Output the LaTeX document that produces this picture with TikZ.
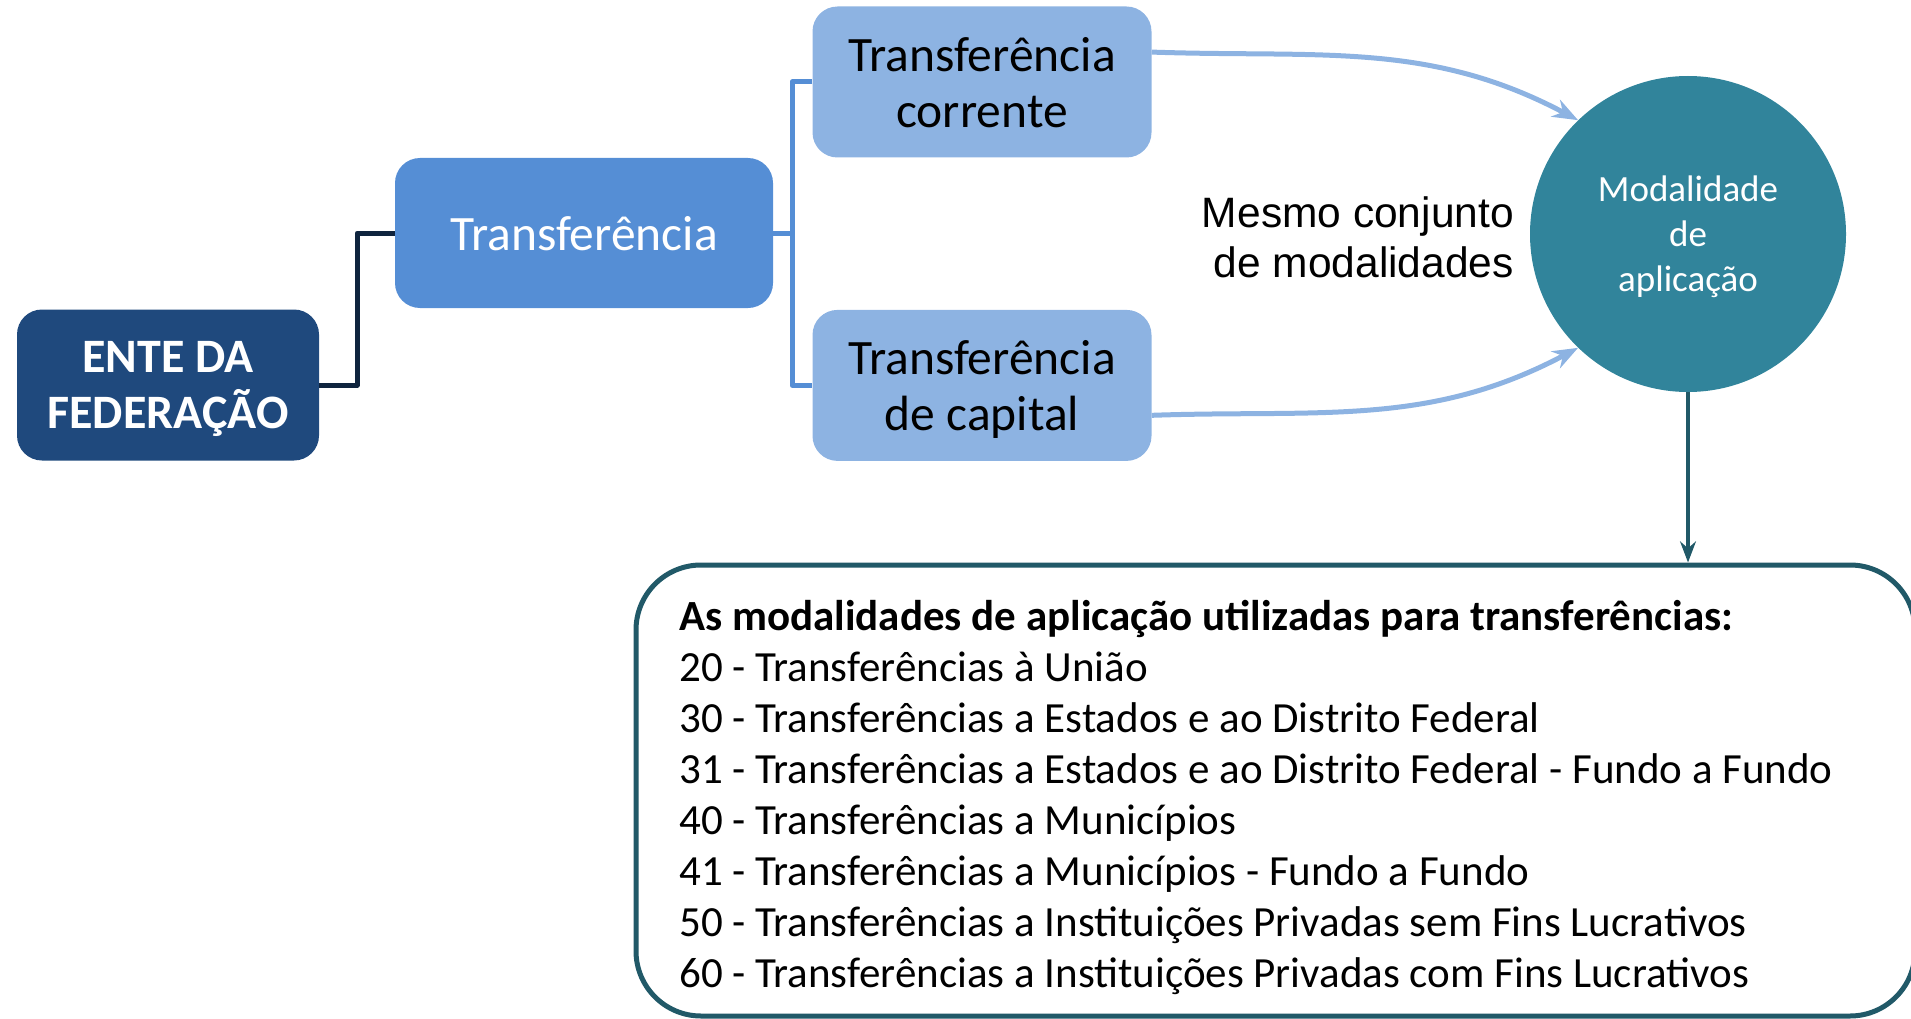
\documentclass[tikz,border=0pt]{standalone}
\usepackage{fontspec}
\setmainfont{Carlito}
\newfontfamily\arialfont{Liberation Sans}
\usetikzlibrary{arrows.meta,positioning}

\definecolor{entec}{HTML}{1F497D}
\definecolor{transc}{HTML}{558ED5}
\definecolor{subc}{HTML}{8DB3E2}
\definecolor{modc}{HTML}{31849B}
\definecolor{caixac}{HTML}{215968}
\definecolor{navyc}{HTML}{0F243E}

\begin{document}
\begin{tikzpicture}[
        x=1pt, y=-1pt,
        >=Stealth, % arrow head style
        line join=round]

        \tikzstyle{bloco}=[
            rectangle,
            rounded corners=25pt,
            inner sep=0pt,
            text depth=0pt,
            align=center
        ]
        \tikzstyle{ramo}=[
            line width=5pt,
        ]
        \tikzstyle{every edge}=[
            draw=subc,
            line width=5pt,
            ->
        ]
        \tikzset{l/.style={font=\fontsize{49.5}{56}\selectfont}}

        \useasboundingbox (0,0) rectangle (1911,1019);
        \clip (0,0) rectangle (1911,1019);

        \node[bloco, fill=entec, text=white, minimum width=302pt, minimum height=151pt,
            font=\bfseries\fontsize{48}{56}\selectfont] (ente) at (168,385) {ENTE DA\\FEDERAÇÃO};
        \node[bloco, l, fill=transc, text=white, minimum width=378pt, minimum height=150pt] (tr) at (584,233) {Transferência};
        \node[bloco, l, fill=subc, minimum width=339pt, minimum height=151pt] (tc) at (982,82) {Transferência\\corrente};
        \node[bloco, l, fill=subc, minimum width=339pt, minimum height=151pt] (tk) [below=152pt of tc] {Transferência\\de capital};
        \node[circle, fill=modc, text=white, minimum size=316pt, inner sep=0pt, align=center, text depth=0pt,
            font=\fontsize{37}{45}\selectfont] (ma) at (1688,234) {Modalidade\\de\\aplicação};
        \node[anchor=east, align=right, inner sep=0pt,
            font=\arialfont\fontsize{42.5}{50}\selectfont] (mc) at (1514,237) {Mesmo conjunto\\de modalidades};

        \node[draw=caixac, line width=5pt, fill=white, rounded corners=65pt,
            minimum width=1279pt, minimum height=451pt] (cx) at (1275.5,790.5) {};
        \node[anchor=north west, align=left, inner sep=0pt,
            font=\fontsize{43}{51}\selectfont] (lista) at (679,600)
            {\textbf{As modalidades de aplicação utilizadas para transferências:}\\
            20 - Transferências à União\\
            30 - Transferências a Estados e ao Distrito Federal\\
            31 - Transferências a Estados e ao Distrito Federal - Fundo a Fundo\\
            40 - Transferências a Municípios\\
            41 - Transferências a Municípios - Fundo a Fundo\\
            50 - Transferências a Instituições Privadas sem Fins Lucrativos\\
            60 - Transferências a Instituições Privadas com Fins Lucrativos};

        % tree connectors
        \draw[ramo, navyc] (ente.east) -- ++(38,0) |- (tr.west);
        \coordinate (j) at ([xshift=19pt]tr.east);
        \draw[ramo, transc] (tr.east) -- (j);
        \draw[ramo, transc] (tc.west) -| (j) |- (tk.west);

        % arrows to the circle
        \path
        (tc.10) edge[out=-2, in=152] (ma.134)
        (tk.-10) edge[out=2, in=208] (ma.226)
        ;
        \draw[->, line width=4pt, caixac] (ma.south) -- (ma.south |- cx.north);
    \end{tikzpicture}
\end{document}
